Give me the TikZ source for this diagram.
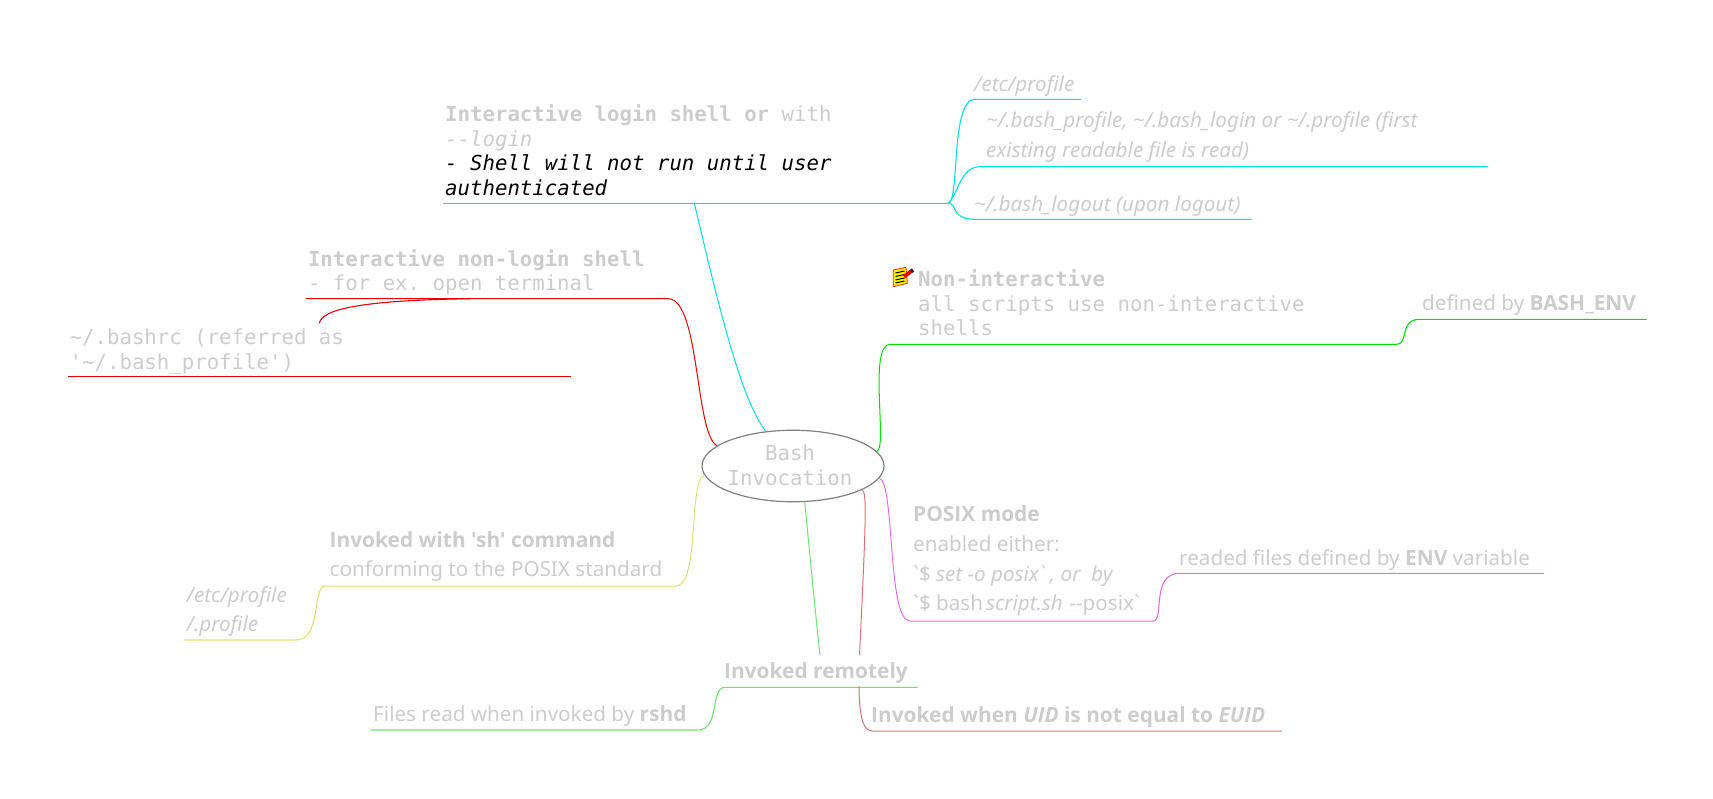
\documentclass[tikz,border=0pt]{standalone}
\usepackage{fontspec}
\setmainfont{Noto Sans}[Ligatures=TeXOff,BoldFont={Open Sans Bold},BoldItalicFont={Open Sans Bold Italic},BoldFeatures={Ligatures=TeXOff,Scale=1.012},BoldItalicFeatures={Ligatures=TeXOff,Scale=1.012}]
\setmonofont{DejaVu Sans Mono}
\usetikzlibrary{shapes.geometric}
\definecolor{txtgray}{HTML}{CCCCCC}
\definecolor{cyanl}{HTML}{00E0E0}
\definecolor{redl}{HTML}{E80000}
\definecolor{greenl}{HTML}{00E000}
\definecolor{violetl}{HTML}{E070E0}
\definecolor{salmonl}{HTML}{E07070}
\definecolor{lgreenl}{HTML}{70E070}
\definecolor{yellowl}{HTML}{E0E070}
\tikzset{
  monotxt/.style={anchor=base west,inner sep=0pt,align=left,text=txtgray,font=\ttfamily\fontsize{20.7}{24.7}\selectfont},
  sanstxt/.style={anchor=base west,inner sep=0pt,align=left,text=txtgray,font=\fontsize{20.65}{29.7}\selectfont},
  conn/.style={line width=1.1pt},
  rootconn/.style={line width=1pt}
}
\newcommand{\tld}{\char126{}}
\newcommand{\bqt}{\char96{}}
\begin{document}
\begin{tikzpicture}[x=1pt,y=-1pt]
  \useasboundingbox (0,0) rectangle (1713,798);
  \node[ellipse,draw=gray,line width=1.2pt,minimum width=182pt,minimum height=71.5pt,inner xsep=-1pt,inner ysep=-.5pt,align=center,text=txtgray,text depth=2pt,font=\ttfamily\fontsize{20.7}{24.5}\selectfont] (bash) at (793,466) {Bash\hspace*{6pt}\\Invocation\hspace*{6pt}};
  % ends of the branches
  \coordinate (loginl) at (443,203.3);
  \coordinate (loginr) at (948,203.3);
  \coordinate (loginfoot) at (694.3,203.3);
  \coordinate (etcr) at (1081,99.3);
  \coordinate (firstr) at (1487.5,166.7);
  \coordinate (logoutr) at (1251.5,219.3);
  \coordinate (nonl) at (305.7,298.7);
  \coordinate (rcstart) at (319.3,323.3);
  \coordinate (rcl) at (67.9,376.3);
  \coordinate (rcr) at (571.4,376.3);
  \coordinate (nonr) at (1396,344.3);
  \coordinate (envr) at (1646.5,319.3);
  \coordinate (posixr) at (1153,621);
  \coordinate (filesr) at (1544,573.3);
  \coordinate (shl) at (325,586);
  \coordinate (shfilesl) at (184.5,640);
  \coordinate (remr) at (917.5,687.3);
  \coordinate (rshdl) at (370.7,730);
  \coordinate (uidr) at (1282,731);
  % cyan
  \draw[cyanl,rootconn] (bash.128.4) .. controls (740,400) and (715,290) .. (loginfoot);
  \draw[cyanl,conn] (loginl) -- (loginr);
  \draw[cyanl,conn] (loginr) .. controls (960,203) and (950,99.3) .. (975,99.3) -- (etcr);
  \draw[cyanl,conn] (loginr) .. controls (958,195) and (960,166.7) .. (980,166.7) -- (firstr);
  \draw[cyanl,conn] (loginr) .. controls (958,203.3) and (950,219.3) .. (975,219.3) -- (logoutr);
  % red
  \draw[redl,rootconn] (bash.165.7) .. controls (695,435) and (700,298.7) .. (668,298.7) -- (nonl);
  \draw[redl,conn] (rcstart) .. controls (322,305) and (390,300) .. (470,298.7);
  \draw[redl,conn] (rcl) -- (rcr);
  % green
  \draw[greenl,rootconn] (bash.10.2) .. controls (888,450) and (868,344.3) .. (890,344.3) -- (nonr);
  \draw[greenl,conn] (nonr) .. controls (1410,344.3) and (1398,319.3) .. (1420,319.3) -- (envr);
  % violet
  \draw[violetl,rootconn] (bash.-8.8) .. controls (895,482) and (887,621) .. (910,621) -- (posixr);
  \draw[violetl,conn] (posixr) .. controls (1165,621) and (1150,573.3) .. (1180,573.3) -- (filesr);
  % yellow
  \draw[yellowl,rootconn] (bash.186.4) .. controls (688,480) and (700,586) .. (676,586) -- (shl);
  \draw[yellowl,conn] (shl) .. controls (312,586) and (322,640) .. (296,640) -- (shfilesl);
  % salmon runs behind the remote label
  \draw[salmonl,rootconn] (bash.-19.3) .. controls (867,492) and (866,520) .. (859.5,655) .. controls (858,700) and (859,731) .. (872,731) -- (uidr);
  % labels
  \node[monotxt] (login) at (445,195.4) {\textbf{Interactive login shell or} with\\\textit{-{}-login}\\\textcolor{black}{\textit{- Shell will not run until user}}\\\textcolor{black}{\textit{authenticated}}};
  \node[sanstxt] (etc) at (974,91.7) {\textit{/etc/profile}};
  \node[sanstxt] (first) at (986,157.3) {\textit{\tld/.bash\_profile, \tld/.bash\_login or \tld/.profile (first}\\\textit{existing readable file is read)}};
  \node[sanstxt] (logout) at (974,211.7) {\textit{\tld/.bash\_logout (upon logout)}};
  \node[monotxt] (nonlogin) at (307.8,290.7) {\textbf{Interactive non-login shell}\\- for ex. open terminal};
  \node[monotxt] (bashrc) at (69.5,369) {\tld/.bashrc (referred as\\'\tld/.bash\_profile')};
  \node[monotxt] (nonint) at (918,335.7) {\textbf{Non-interactive}\\all scripts use non-interactive\\shells};
  \node[sanstxt] (bashenv) at (1422,310.7) {defined by \textbf{BASH\_ENV}};
  \node[sanstxt] (posix) at (913,610.7) {\textbf{POSIX mode}\\enabled either:\\\bqt\$ \textit{set -o posix\bqt\ , or\ \ by}\\\bqt\$ bash\hspace{3pt}\textit{script.sh}\hspace{6.5pt}-{}-posix\bqt};
  \node[sanstxt] (envfiles) at (1179,565) {readed files defined by \textbf{ENV} variable};
  \node[sanstxt] (shcmd) at (329.5,576.7) {\textbf{Invoked with \char39{}sh\char39{} command}\\conforming to the POSIX standard};
  \node[sanstxt] (shfiles) at (186.5,631.7) {\textit{/etc/profile}\\\textit{/.profile}};
  \node[sanstxt,fill=white,text height=23pt,text depth=8pt] (remote) at (724,678.3) {\textbf{Invoked remotely}};
  \node[sanstxt] (rshd) at (373,721.7) {Files read when invoked by \textbf{rshd}};
  \node[sanstxt] (uid) at (871,722.7) {\textbf{Invoked when \textit{UID} is not equal to \textit{EUID}}};
  % light green, on top of the remote label box
  \draw[lgreenl,rootconn] (bash.-72.6) .. controls (809,545) and (815,610) .. ([xshift=4pt]remote.north);
  \draw[lgreenl,conn] (remr) -- (725,687.3) .. controls (710,687.3) and (720,730) .. (698,730) -- (rshdl);
  % note icon
  \fill[yellow,draw=red!70!orange,line width=.8pt] (893.3,270) -- (906,267.3) -- (907.3,283.3) -- (893.3,286.7) -- cycle;
  \foreach \y in {273,276.5,280,283}{\draw[black,line width=1pt] (895.5,\y) -- (904.5,\y-2);}
  \draw[red!90!black,line width=3.8pt] (904,276.5) -- (911,271.5);
  \draw[red!40!black,line width=3.8pt] (911,271.5) -- (913,270);
\end{tikzpicture}
\end{document}
